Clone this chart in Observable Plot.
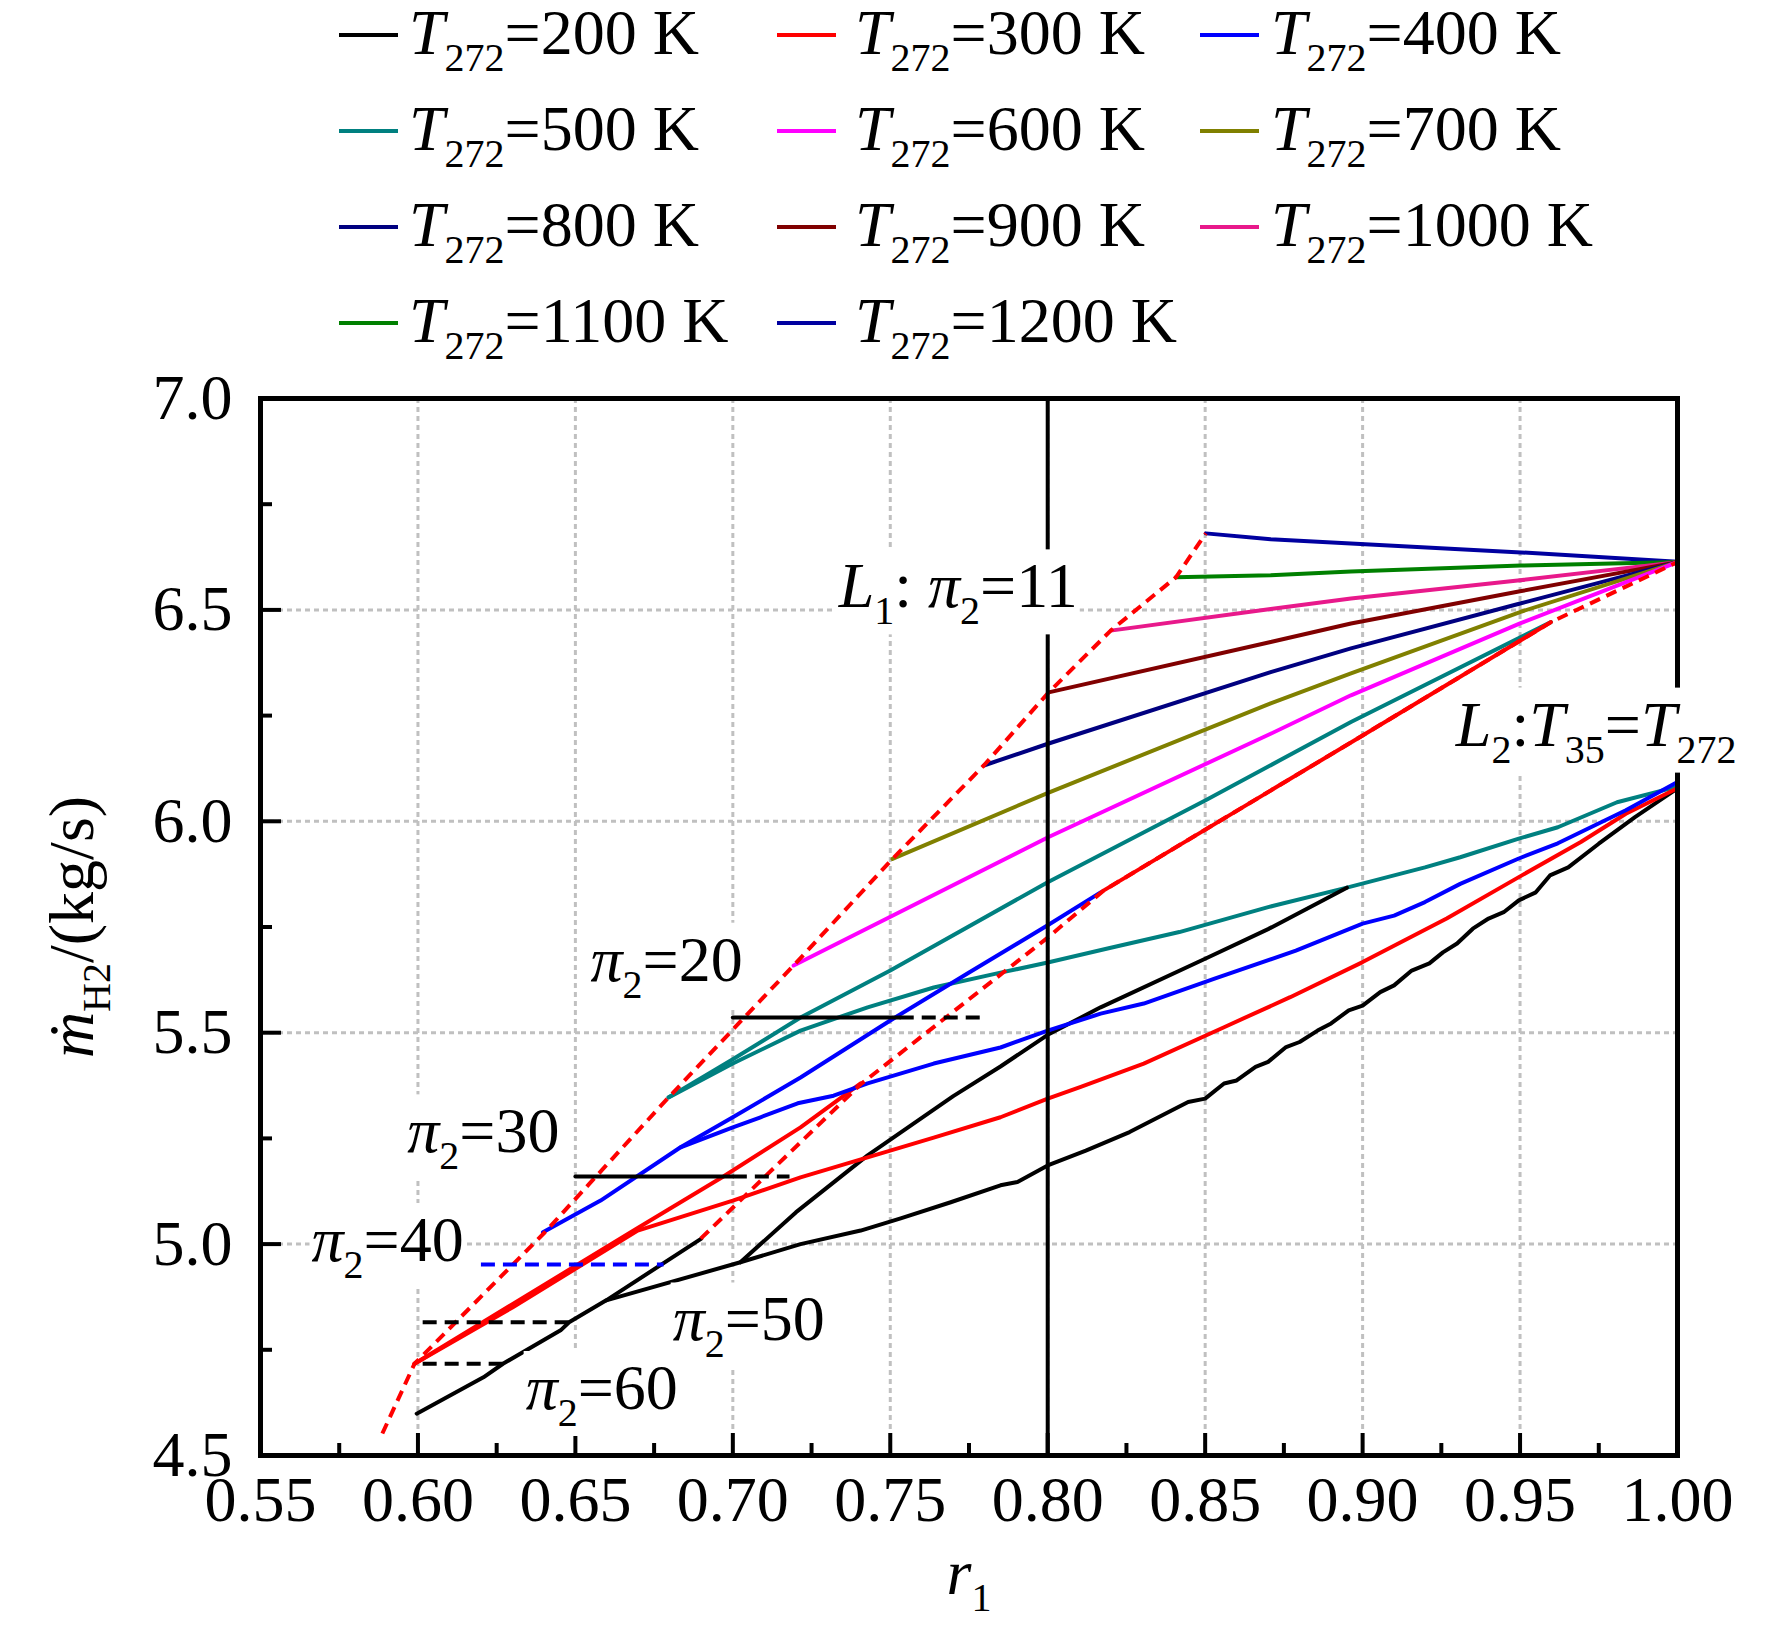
<!DOCTYPE html>
<html><head><meta charset="utf-8">
<script src="https://cdn.jsdelivr.net/npm/d3@7"></script>
<script src="https://cdn.jsdelivr.net/npm/@observablehq/plot@0.6"></script>
<style>
body{margin:0;background:#fff;}
#wrap{width:1772px;}
#legend{position:relative;width:1772px;height:360px;font-family:"Liberation Serif","Times New Roman",serif;font-size:64px;color:#000;}
.sw{position:absolute;height:4px;width:59px;}
.lt{position:absolute;line-height:64px;height:64px;white-space:nowrap;}
.lt i{font-style:italic}
.lt .sb{font-size:40px;position:relative;top:17px;}
#chart svg text{white-space:pre;}
</style></head><body><div id="wrap"><div id="legend"></div><div id="chart"></div></div>
<script>
// ---------------- data (r1, m_H2) ----------------
const temps = [200, 300, 400, 500, 600, 700, 800, 900, 1000, 1100, 1200];

// upper family: from the left envelope to r1 = 1.0
const u1200 = [[0.8502,6.681],[0.8708,6.667],[0.8963,6.657],[0.9503,6.636],[1.0,6.614]];
const u1100 = [[0.8407,6.577],[0.8708,6.582],[0.8963,6.591],[0.9503,6.605],[1.0,6.613]];
const u1000 = [[0.8200,6.451],[0.8708,6.502],[0.8963,6.527],[0.9500,6.570],[1.0,6.613]];
const u900  = [[0.8003,6.305],[0.8708,6.424],[0.8963,6.468],[0.9500,6.544],[1.0,6.613]];
const u800  = [[0.7797,6.132],[0.8003,6.184],[0.8708,6.353],[0.8963,6.409],[0.9500,6.515],[1.0,6.613]];
const u700  = [[0.7507,5.911],[0.8003,6.068],[0.8708,6.279],[0.8963,6.350],[0.9500,6.495],[1.0,6.613]];
const u600  = [[0.7193,5.659],[0.8003,5.963],[0.8708,6.207],[0.8963,6.298],[0.9500,6.468],[1.0,6.613]];
const u500  = [[0.6796,5.347],[0.7000,5.437],[0.7215,5.536],[0.7500,5.647],[0.8000,5.856],[0.8500,6.049],[0.8963,6.235],[0.9598,6.471]];
const u300  = [[0.8177,5.836],[0.9000,6.203],[0.9598,6.471]];

// lower family (ends near 6.08 at r1 = 1.0)
const l500 = [[0.6796,5.347],[0.7000,5.427],[0.7215,5.505],[0.7428,5.560],[0.7638,5.607],[0.7850,5.642],[0.8000,5.666],[0.8190,5.699],[0.8418,5.738],[0.8700,5.797],[0.8950,5.843],[0.9198,5.891],[0.9310,5.915],[0.9496,5.959],[0.9620,5.986],[0.9808,6.045],[1.0,6.082]];
const u400 = [[0.6397,5.028],[0.6580,5.103],[0.6834,5.229],[0.7000,5.300],[0.7215,5.394],[0.7500,5.529],[0.7745,5.640],[0.8000,5.754],[0.8168,5.832]];
const l400 = [[0.6834,5.229],[0.7000,5.276],[0.7088,5.300],[0.7206,5.333],[0.7320,5.351],[0.7428,5.380],[0.7638,5.427],[0.7850,5.465],[0.8000,5.505],[0.8168,5.545],[0.8305,5.569],[0.8530,5.628],[0.8788,5.694],[0.9000,5.758],[0.9100,5.777],[0.9198,5.809],[0.9310,5.852],[0.9496,5.912],[0.9620,5.948],[0.9836,6.026],[1.0,6.093]];
const s300 = [[0.5989,4.717],[0.6300,4.858],[0.6698,5.038],[0.6970,5.160],[0.7215,5.276],[0.7406,5.380]];
const l300 = [[0.5989,4.717],[0.6300,4.850],[0.6698,5.032],[0.7000,5.103],[0.7215,5.158],[0.7428,5.205],[0.7638,5.252],[0.7850,5.300],[0.8000,5.344],[0.8105,5.372],[0.8305,5.427],[0.8560,5.513],[0.8770,5.584],[0.9000,5.667],[0.9267,5.770],[0.9496,5.868],[0.9693,5.951],[0.9836,6.018],[1.0,6.078]];
const a200 = [[0.5996,4.599],[0.6208,4.685],[0.6270,4.717],[0.6453,4.796],[0.6480,4.815],[0.6598,4.867],[0.6900,5.013]];
const l200 = [[0.6598,4.867],[0.7024,4.957],[0.7215,5.000],[0.7406,5.032],[0.7533,5.061],[0.7692,5.099],[0.7850,5.139],[0.7904,5.147],[0.8000,5.186],[0.8121,5.221],[0.8260,5.265],[0.8446,5.336],[0.8500,5.344],[0.8560,5.380],[0.8600,5.387],[0.8660,5.419],[0.8700,5.431],[0.8757,5.466],[0.8800,5.478],[0.8857,5.505],[0.8900,5.522],[0.8956,5.553],[0.9000,5.564],[0.9056,5.596],[0.9100,5.612],[0.9156,5.647],[0.9212,5.664],[0.9255,5.690],[0.9300,5.711],[0.9350,5.746],[0.9400,5.770],[0.9448,5.785],[0.9496,5.813],[0.9550,5.832],[0.9595,5.872],[0.9653,5.891],[0.9750,5.947],[0.9865,6.010],[1.0,6.078]];
const s200 = [[0.7024,4.957],[0.7200,5.075],[0.7428,5.210],[0.7700,5.350],[0.7850,5.420],[0.8000,5.495],[0.8168,5.560],[0.8500,5.675],[0.8700,5.745],[0.8950,5.843]];

// boundaries
const envelope = [[0.5887,4.552],[0.5989,4.717],[0.6403,5.028],[0.6796,5.347],[0.7193,5.659],[0.7507,5.911],[0.7797,6.132],[0.8003,6.305],[0.8200,6.451],[0.8407,6.577],[0.8502,6.681]];
const lineL2 = [[0.6898,5.013],[0.7406,5.378],[0.8000,5.725],[0.8177,5.836],[0.9000,6.203],[0.9598,6.471],[1.0,6.613]];
const rL1 = [0.8];

// constant pi2 segments
const pi20Solid = [[0.700,5.536],[0.753,5.536]];
const pi20Dash  = [[0.753,5.536],[0.779,5.536]];
const pi30Solid = [[0.650,5.160],[0.700,5.160]];
const pi30Dash  = [[0.700,5.160],[0.718,5.160]];
const pi40Dash  = [[0.620,4.952],[0.678,4.952]];
const pi50Dash  = [[0.6015,4.815],[0.648,4.815]];
const pi60Dash  = [[0.6015,4.717],[0.627,4.717]];

// axes
const xTickLabels = [0.55,0.60,0.65,0.70,0.75,0.80,0.85,0.90,0.95,1.00];
const xMajor = [0.60,0.65,0.70,0.75,0.80,0.85,0.90,0.95];
const xMinor = [0.575,0.625,0.675,0.725,0.775,0.825,0.875,0.925,0.975];
const yTickLabels = [4.5,5.0,5.5,6.0,6.5,7.0];
const yMajor = [5.0,5.5,6.0,6.5];
const yMinor = [4.75,5.25,5.75,6.25,6.75];

// annotations
const noteText = ["L1: π2=11","π2=20","π2=30","π2=40","π2=50","π2=60","L2:T35=T272"];
const noteX = [0.7336,0.6548,0.5966,0.5662,0.6809,0.6342,0.9296];
const noteY = [6.506,5.623,5.217,4.960,4.772,4.610,6.179];
const legendText = temps.map(t => `T272=${t} K`);
const xLabel = "r1";
const yLabel = "\u1E41H2/(kg/s)";

// ---------------- styles ----------------
const colors = {200:"#000000",300:"#ff0000",400:"#0000ff",500:"#008080",600:"#ff00ff",700:"#808000",800:"#000080",900:"#800000",1000:"#e8198b",1100:"#008000",1200:"#0000a0"};
const FONT = '"Liberation Serif","Times New Roman",serif';
const W = 1772, H = 1272, mT = 38, mB = 177, mL = 260, mR = 95;
const innerW = W - mL - mR, innerH = H - mT - mB;
const kx = (1.0 - 0.55) / innerW, ky = (7.0 - 4.5) / innerH;

// rich text helpers
const ITAL = new Set(["L","T","π","r","\u1E41"]);
function parseRich(s){
  const segs=[]; let i=0;
  const push=(t,k)=>{ if(segs.length && segs[segs.length-1].k===k) segs[segs.length-1].t+=t; else segs.push({t,k}); };
  while(i<s.length){ const c=s[i];
    if(ITAL.has(c)){ push(c,'i'); i++; while(i<s.length && /[0-9H]/.test(s[i])){ push(s[i],'s'); i++; } }
    else { push(c,'n'); i++; }
  }
  return segs;
}
const esc = t => t.replace(/&/g,'&amp;').replace(/</g,'&lt;');
function svgRich(s, fs){
  const sub = Math.round(fs*0.625), sh = Math.round(fs*0.27); let out='', inSub=false;
  for (const {t,k} of parseRich(s)){
    if(k==='s'){ out += `<tspan font-size="${sub}" dy="${sh}">${esc(t)}</tspan>`; inSub=true; }
    else { const dy = inSub ? ` dy="${-sh}"` : ''; inSub=false; out += `<tspan${k==='i'?' font-style="italic"':''}${dy}>${esc(t)}</tspan>`; }
  }
  return out;
}
function htmlRich(s){
  let out='';
  for (const {t,k} of parseRich(s)){
    if(k==='s') out += `<span class="sb">${esc(t)}</span>`;
    else if(k==='i') out += `<i>${esc(t)}</i>`;
    else out += esc(t);
  }
  return out;
}

// ---------------- legend ----------------
const legend = document.getElementById("legend");
const swX = [339, 777, 1200], txX = [409, 855, 1271], rowBase = [55, 151, 247, 343];
temps.forEach((t, i) => {
  const c = i % 3, r = Math.floor(i / 3);
  const sw = document.createElement("div");
  sw.className = "sw"; sw.style.left = swX[c] + "px"; sw.style.top = (rowBase[r] - 22) + "px"; sw.style.background = colors[t];
  legend.appendChild(sw);
  const tx = document.createElement("div");
  tx.className = "lt"; tx.style.left = txX[c] + "px"; tx.style.top = (rowBase[r] - 54) + "px";
  tx.innerHTML = htmlRich(legendText[i]);
  legend.appendChild(tx);
});

// ---------------- plot ----------------
const LW = 4;
const ln = (d, c, extra={}) => Plot.line(d, {stroke: c, strokeWidth: LW, strokeLinejoin: "round", ...extra});
const dashRed = {strokeDasharray: "11,7", strokeWidth: 4, strokeLinecap: "butt"};
const dashK = {strokeDasharray: "14,8", strokeWidth: 4, strokeLinecap: "butt"};

const chart = Plot.plot({
  width: W, height: H,
  marginTop: mT, marginBottom: mB, marginLeft: mL, marginRight: mR,
  x: {domain: [0.55, 1.0]},
  y: {domain: [4.5, 7.0]},
  style: {fontFamily: FONT, background: "white", overflow: "visible"},
  marks: [
    Plot.gridX(xMajor, {stroke: "#c0c0c0", strokeOpacity: 1, strokeWidth: 3, strokeDasharray: "5,4"}),
    Plot.gridY(yMajor, {stroke: "#c0c0c0", strokeOpacity: 1, strokeWidth: 3, strokeDasharray: "5,4"}),
    // upper family
    ln(u1200, colors[1200]), ln(u1100, colors[1100]), ln(u1000, colors[1000]), ln(u900, colors[900]),
    ln(u800, colors[800]), ln(u700, colors[700]), ln(u600, colors[600]), ln(u500, colors[500]),
    // lower family
    ln(l500, colors[500]),
    ln(l200, colors[200]), ln(a200, colors[200]), ln(s200, colors[200]),
    ln(l300, colors[300]), ln(s300, colors[300]),
    ln(l400, colors[400]), ln(u400, colors[400]),
    // boundaries
    ln(envelope, "#ff0000", dashRed),
    ln(lineL2, "#ff0000", dashRed),
    ln(u300, colors[300]),
    // pi2 segments
    ln(pi20Solid, "#000"), ln(pi20Dash, "#000", dashK),
    ln(pi30Solid, "#000"), ln(pi30Dash, "#000", dashK),
    ln(pi40Dash, "#0000ff", dashK),
    ln(pi50Dash, "#000", dashK),
    ln(pi60Dash, "#000", dashK),
    // L1
    Plot.ruleX(rL1, {stroke: "#000", strokeWidth: 4}),
    // frame and ticks
    Plot.frame({stroke: "#000", strokeWidth: 5}),
    Plot.ruleX(xMajor, {x: d => d, y1: 4.5, y2: 4.5 + 22 * ky, stroke: "#000", strokeWidth: 4}),
    Plot.ruleX(xMinor, {x: d => d, y1: 4.5, y2: 4.5 + 12 * ky, stroke: "#000", strokeWidth: 4}),
    Plot.ruleY(yMajor, {y: d => d, x1: 0.55, x2: 0.55 + 21 * kx, stroke: "#000", strokeWidth: 4}),
    Plot.ruleY(yMinor, {y: d => d, x1: 0.55, x2: 0.55 + 12 * kx, stroke: "#000", strokeWidth: 4}),
    Plot.axisX({ticks: xTickLabels, tickSize: 0, tickPadding: 20, tickFormat: d3.format(".2f"), fontSize: 64, label: null, fill: "#000"}),
    Plot.axisY({ticks: yTickLabels, tickSize: 0, tickPadding: 28, tickFormat: d3.format(".1f"), fontSize: 64, label: null, fill: "#000"}),
    // axis titles
    Plot.text([xLabel], {frameAnchor: "bottom", dy: 138, text: d => d, lineAnchor: "bottom", textAnchor: "middle", fontSize: 64, fill: "#000", className: "rich"}),
    Plot.text([yLabel], {frameAnchor: "left", dx: -168, rotate: -90, text: d => d, lineAnchor: "bottom", textAnchor: "middle", fontSize: 64, fill: "#000", className: "rich"}),
    // annotations
    Plot.text(noteText, {x: (d, i) => noteX[i], y: (d, i) => noteY[i], text: d => d, textAnchor: "start", lineAnchor: "bottom", fontSize: 64, fill: "#000", className: "rich note"})
  ]
});
document.getElementById("chart").appendChild(chart);

// rich text (italics / subscripts)
d3.select(chart).selectAll("g.rich text").each(function(){
  this.innerHTML = svgRich(this.textContent, 64);
});
// white boxes behind annotations
d3.select(chart).selectAll("g.note text").each(function(){
  const b = this.getBBox();
  const r = document.createElementNS("http://www.w3.org/2000/svg", "rect");
  r.setAttribute("x", b.x - 2); r.setAttribute("y", b.y - 1);
  r.setAttribute("width", b.width + 4); r.setAttribute("height", b.height + 2);
  r.setAttribute("fill", "white"); r.setAttribute("stroke", "none");
  const tr = this.getAttribute("transform"); if (tr) r.setAttribute("transform", tr);
  this.parentNode.insertBefore(r, this);
});
</script></body></html>
